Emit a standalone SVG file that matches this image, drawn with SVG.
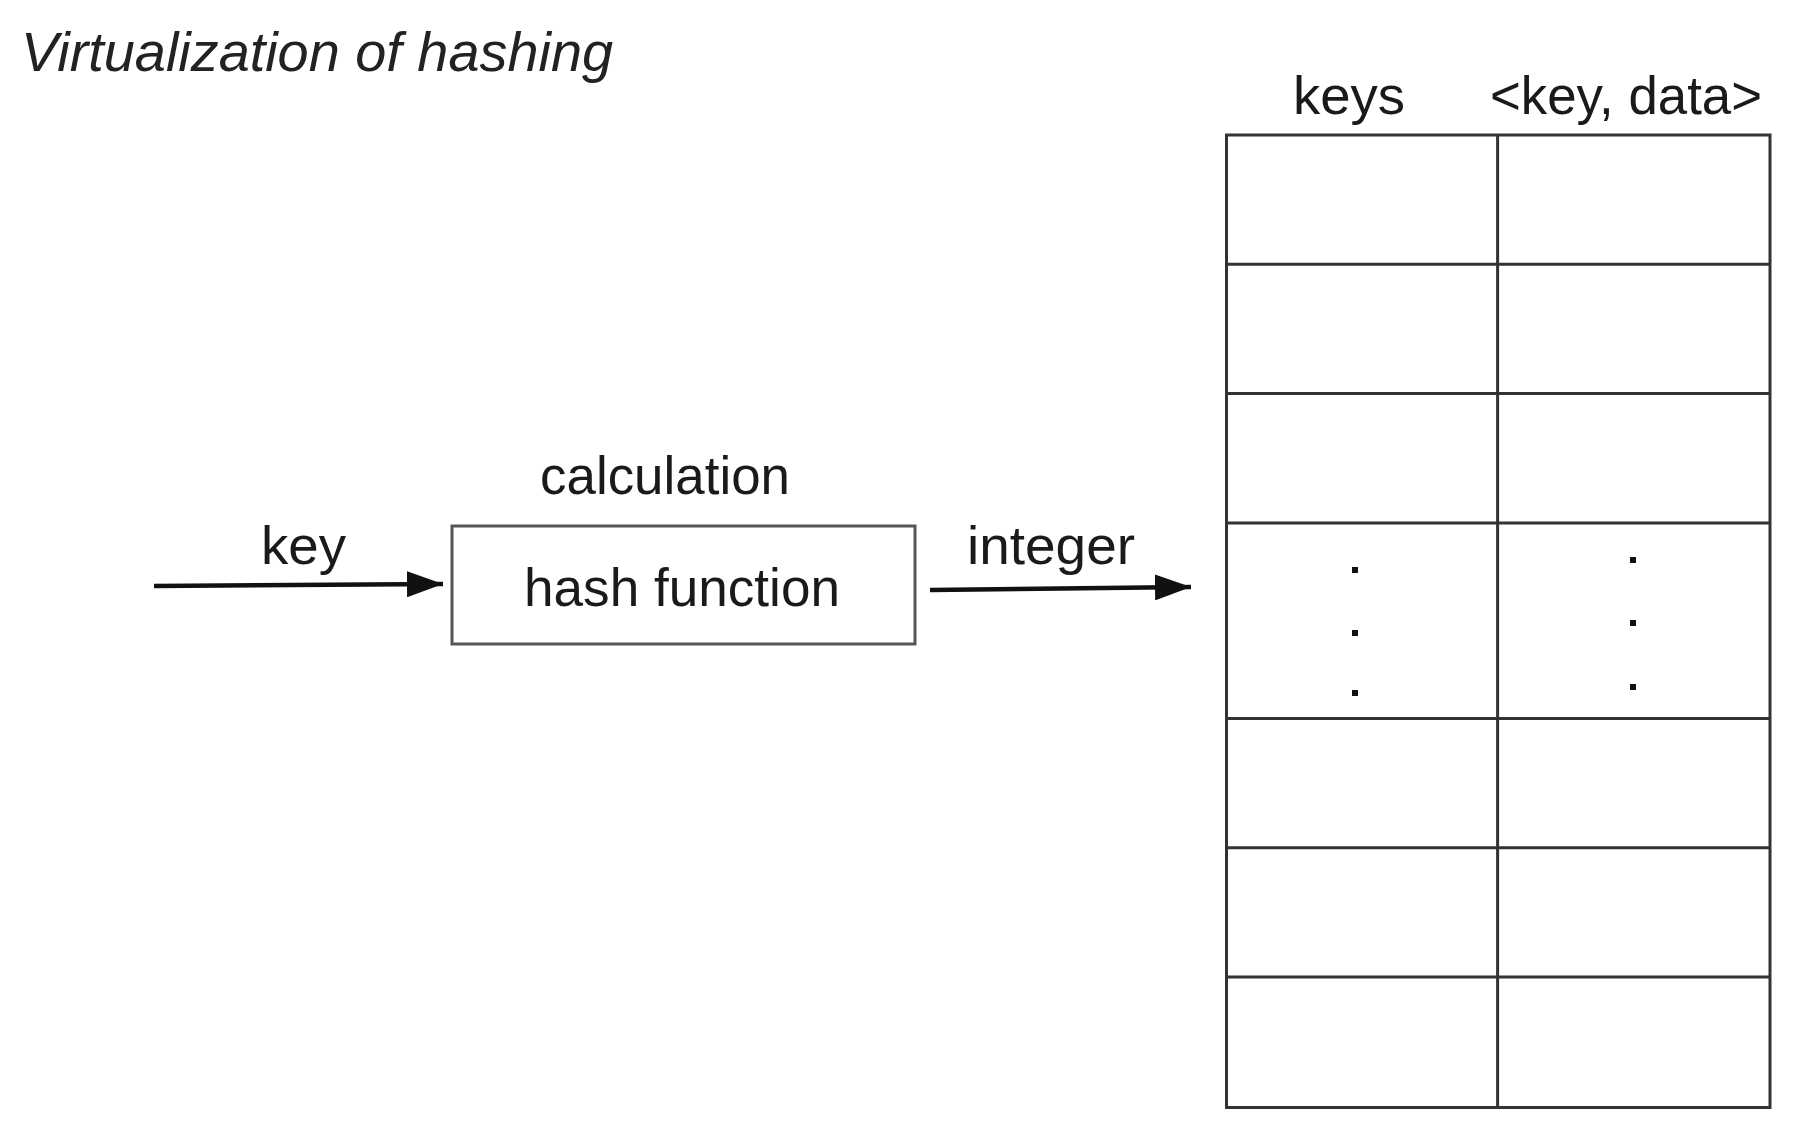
<svg xmlns="http://www.w3.org/2000/svg" width="1794" height="1138" viewBox="0 0 1794 1138">
<style>
text { font-family: "Liberation Sans", Arial, sans-serif; font-size: 54px; fill: #1a1a1a; }
.title { font-style: italic; font-size: 56px; fill: #222; }
.grid { stroke: #333; stroke-width: 3; fill: none; }
.box { stroke: #555; stroke-width: 3; fill: #fff; }
.conn { stroke: #111; stroke-width: 4.5; fill: none; }
.dot { fill: #111; }
</style>
<defs>
<marker id="arr" viewBox="0 0 36 26" refX="36" refY="13" markerUnits="userSpaceOnUse" markerWidth="36" markerHeight="26" preserveAspectRatio="none" orient="auto">
<path d="M0,0 L36,13 L0,26 z" fill="#111"/>
</marker>
</defs>
<rect width="1794" height="1138" fill="#fff"/>
<text class="title" x="21" y="71" textLength="592" lengthAdjust="spacingAndGlyphs">Virtualization of hashing</text>

<g id="hash-function">
<rect class="box" x="452" y="526" width="463" height="118"/>
<text x="524" y="606" textLength="316" lengthAdjust="spacingAndGlyphs">hash function</text>
<text x="540" y="494" textLength="250" lengthAdjust="spacingAndGlyphs">calculation</text>
</g>

<g id="hash-table">
<rect class="grid" x="1226.5" y="135" width="543.5" height="972.5"/>
<line class="grid" x1="1497.6" y1="135" x2="1497.6" y2="1107.5"/>
<line class="grid" x1="1226.5" y1="264.3" x2="1770" y2="264.3"/>
<line class="grid" x1="1226.5" y1="393.6" x2="1770" y2="393.6"/>
<line class="grid" x1="1226.5" y1="522.9" x2="1770" y2="522.9"/>
<line class="grid" x1="1226.5" y1="718.5" x2="1770" y2="718.5"/>
<line class="grid" x1="1226.5" y1="847.8" x2="1770" y2="847.8"/>
<line class="grid" x1="1226.5" y1="977.1" x2="1770" y2="977.1"/>
<text x="1293" y="114" textLength="112" lengthAdjust="spacingAndGlyphs">keys</text>
<text x="1490" y="114" textLength="272" lengthAdjust="spacingAndGlyphs">&lt;key, data&gt;</text>
<rect class="dot" x="1352" y="567" width="6" height="6"/>
<rect class="dot" x="1352" y="630" width="6" height="6"/>
<rect class="dot" x="1352" y="690" width="6" height="6"/>
<rect class="dot" x="1630" y="557" width="6" height="6"/>
<rect class="dot" x="1630" y="620" width="6" height="6"/>
<rect class="dot" x="1630" y="684" width="6" height="6"/>
</g>

<g id="connectors">
<line class="conn" x1="154" y1="586" x2="443" y2="584" marker-end="url(#arr)"/>
<text x="261" y="564" textLength="85" lengthAdjust="spacingAndGlyphs">key</text>
<line class="conn" x1="930" y1="590" x2="1191" y2="587" marker-end="url(#arr)"/>
<text x="967" y="564" textLength="168" lengthAdjust="spacingAndGlyphs">integer</text>
</g>
</svg>
